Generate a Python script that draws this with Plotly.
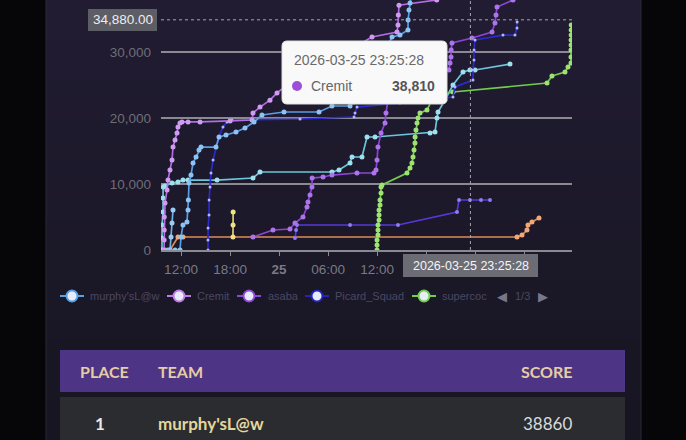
import pandas as pd
import plotly.graph_objects as go

W, H = 686, 440          # reference pixel grid used for layout fractions
FIG_H = 448              # rendered page height (viewport is scaled to 440)
START = pd.Timestamp("2026-03-24 00:00:00")

# ---------------- data (hours since 2026-03-24 00:00, score) ----------------
murphy_h = [10.41, 11.27, 11.88, 12.0, 12.24, 12.73, 12.86, 12.9, 12.98, 13.22, 13.47, 13.84, 14.2, 14.45,
            16.28, 16.65, 17.51, 18.73, 19.83, 20.94, 21.91, 24.61, 28.89, 30.48, 32.69, 33.18, 34.52,
            36.36, 37.83, 38.8, 39.78, 39.8, 39.9, 40.03, 40.27]
murphy_v = [0, 0, 0, 1970, 3790, 4240, 6060, 7580, 10150, 11360, 13180, 14090, 15150, 15600,
            15600, 17120, 17420, 17880, 18480, 19390, 20450, 20910, 20910, 21820, 21820, 22420, 24240,
            28790, 32270, 32570, 33330, 34850, 36360, 37420, 38860]

cremit_h = [9.92, 9.93, 9.94, 9.95, 10.04, 10.29, 10.41, 10.65, 10.9, 11.02, 11.27, 11.51, 11.63, 11.88,
            12.12, 12.86, 14.33, 18.0, 20.69, 20.81, 21.67, 22.89, 23.75, 26.57, 31.46, 35.38, 38.44,
            38.56, 38.6, 38.68, 43.3, 44.0]
cremit_v = [0, 1500, 3030, 5000, 7120, 9090, 10600, 12120, 13640, 15600, 16660, 17730, 18630, 19240,
            19400, 19400, 19400, 19550, 19700, 20750, 21660, 22700, 23800, 26500, 29500, 32270, 33030,
            34090, 35600, 37100, 37880, 38810]

asaba_h = [20.81, 23.26, 25.34, 25.95, 26.93, 27.42, 27.54, 27.79, 28.03, 28.05, 29.38, 30.48, 33.54,
           35.62, 35.87, 35.99, 36.11, 36.48, 36.97, 37.09, 37.34, 38.8, 41.25, 43.7, 44.8, 44.93, 45.05,
           45.07, 45.17, 47.62, 50.07, 50.43, 50.56, 50.68, 52.64, 53.5]
asaba_v = [1970, 3030, 3180, 4090, 5000, 6510, 7270, 8330, 9540, 10900, 11060, 11360, 11670,
           11670, 12120, 13640, 15600, 17730, 19240, 20760, 22730, 23480, 25000, 26500, 27270, 28330, 29240,
           30300, 31360, 32120, 33030, 34390, 35600, 36810, 37880, 38640]

picard_h = [15.3, 15.3, 15.31, 15.43, 15.44, 15.55, 15.67, 15.92, 16.28, 16.65, 17.14, 17.63, 18.24,
            26.57, 33.18, 33.3, 33.54, 38.8, 43.7, 45.29, 45.54, 47.74, 47.75, 47.86, 47.87, 47.99,
            51.41, 52.88, 53.13, 53.14]
picard_v = [0, 1500, 3330, 5300, 7580, 9540, 11670, 13640, 15600, 17120, 18630, 19390, 19700,
            19850, 20150, 20760, 21660, 22270, 22880, 23180, 24700, 25750, 27270, 28790, 30300, 31815,
            32570, 32570, 33630, 34540]

supercoc_h = [35.99, 35.99, 35.99, 36.11, 36.11, 36.11, 36.24, 36.24, 36.24, 36.36, 36.36, 36.48, 36.48,
              36.6, 39.66, 40.03, 40.27, 40.4, 40.52, 40.64, 40.65, 40.76, 40.89, 41.01, 41.25, 42.11,
              42.72, 43.7, 45.29, 56.8, 57.41, 59.0, 59.37, 59.74, 59.74, 59.74, 59.75, 59.75, 59.76,
              59.76, 59.77]
supercoc_v = [0, 760, 1515, 2270, 3030, 3790, 4545, 5300, 6060, 6820, 7575, 8640, 9540,
              9850, 11670, 12420, 13180, 14090, 15150, 16210, 17120, 18180, 19240, 20000, 20760, 21210,
              22730, 23480, 23940, 25300, 26360, 26970, 27720, 28330, 29240, 30300, 31060, 31815, 32570,
              33330, 34090]

cyan_h = [9.67, 9.67, 9.68, 9.8, 9.8, 9.81, 10.04, 10.9, 11.63, 12.24, 12.86, 16.41, 20.81, 21.67,
          30.48, 31.34, 32.69, 32.93, 34.15, 34.77, 35.75, 42.48, 43.09, 43.33, 43.46, 44.31, 45.29,
          46.52, 47.37, 47.99, 52.27]
cyan_v = [0, 1820, 3790, 5760, 7880, 9540, 9700, 10150, 10300, 10600, 10600, 10600, 10910, 11820,
          11820, 12120, 13180, 14090, 14090, 17120, 17120, 17730, 17880, 20000, 20910, 22730, 25000,
          26970, 27270, 27270, 28180]

lightblue2_h = [10.65, 10.78, 10.9, 11.02]
lightblue2_v = [0, 1970, 4090, 6060]

orange_h = [9.56, 10.04, 10.65, 11.63, 12.24, 53.13, 53.74, 54.35, 54.47, 54.96, 55.82]
orange_v = [0, 0, 0, 1970, 1970, 1970, 2270, 3030, 3790, 4240, 4850]

yellow_h = [18.36, 18.37, 18.38]
yellow_v = [1970, 3790, 5760]

indigo_h = [25.95, 26.08, 26.2, 32.69, 38.56, 45.78, 46.03, 47.37, 48.72, 49.82]
indigo_v = [1820, 3030, 3790, 3790, 3790, 5760, 7575, 7575, 7575, 7575]

legend_names = ["murphy'sL@w", "Cremit", "asaba", "Picard_Squad", "supercoc"]
x_tick_hours = [12, 18, 24, 30, 36, 42, 48, 54]
x_tick_text = ["12:00", "18:00", "<b>25</b>", "06:00", "12:00", "", "", ""]
y_tick_vals = [0, 10000, 20000, 30000]
y_tick_text = ["0", "10,000", "20,000", "30,000"]
pointer_time = "2026-03-25 23:25:28"
pointer_value = 34880
tooltip_team, tooltip_score = "Cremit", 38810
table_headers = ["PLACE", "TEAM", "SCORE"]
table_row = ["1", "murphy'sL@w", "38860"]

X_MIN_H, X_MAX_H = 9.55, 59.86
Y_MAX = 37880


def t(hours):
    return START + pd.to_timedelta(pd.Series(hours, dtype=float), unit="h")


def px(x):
    return x / W


def py(y):
    return 1 - y / H


fig = go.Figure()

series = [
    ("orange", orange_h, orange_v, "#dd8a55", "#f0a877", 5),
    ("yellow", yellow_h, yellow_v, "#ddd066", "#efe28a", 5),
    ("indigo", indigo_h, indigo_v, "#5538d6", "#8f7cf0", 4),
    ("lightblue2", lightblue2_h, lightblue2_v, "#6fb0ea", "#9cccf5", 5),
    ("cyan", cyan_h, cyan_v, "#6cc6da", "#9fe0ee", 5),
    ("supercoc", supercoc_h, supercoc_v, "#74cc4c", "#9ee274", 5),
    ("Picard_Squad", picard_h, picard_v, "#2b2bd0", "#b4b4ff", 3),
    ("asaba", asaba_h, asaba_v, "#8c44d6", "#ac74ea", 5),
    ("Cremit", cremit_h, cremit_v, "#b26ce4", "#cf9cf2", 5),
    ("murphy'sL@w", murphy_h, murphy_v, "#5a9ee6", "#8cc4f4", 5),
]
for name, hs, vs, lc, mc, ms in series:
    fig.add_trace(go.Scatter(
        x=t(hs), y=vs, name=name, mode="lines+markers",
        line=dict(color=lc, width=1.7),
        marker=dict(color=mc, size=ms, line=dict(width=0)),
        showlegend=False, hoverinfo="skip",
    ))

shapes = []
# ---- page background: black strips + dark purple panel (gradient bands)
shapes.append(dict(type="rect", xref="paper", yref="paper", x0=0, x1=1, y0=0, y1=1,
                   fillcolor="#060608", line_width=0, layer="below"))
top = (33, 28, 50)
bot = (23, 21, 33)
nb = 22
for i in range(nb):
    f = i / (nb - 1)
    c = tuple(round(top[k] + (bot[k] - top[k]) * f) for k in range(3))
    shapes.append(dict(type="rect", xref="paper", yref="paper",
                       x0=px(46), x1=px(641), y0=py(i * H / nb + H / nb + 0.5), y1=py(i * H / nb),
                       fillcolor="rgb(%d,%d,%d)" % c, line_width=0, layer="below"))
for ex in (46, 641):
    shapes.append(dict(type="line", xref="paper", yref="paper", x0=px(ex), x1=px(ex), y0=0, y1=1,
                       line=dict(color="#2a2838", width=1), layer="below"))

# ---- axis pointer lines
shapes.append(dict(type="line", xref="x", yref="y",
                   x0=START + pd.Timedelta(hours=X_MIN_H), x1=START + pd.Timedelta(hours=X_MAX_H),
                   y0=pointer_value, y1=pointer_value,
                   line=dict(color="#a4a4ac", width=1, dash="3px,3px")))
shapes.append(dict(type="line", xref="x", yref="paper",
                   x0=pd.Timestamp(pointer_time), x1=pd.Timestamp(pointer_time),
                   y0=py(250), y1=1, line=dict(color="#a4a4ac", width=1, dash="3px,3px")))

# ---- pointer labels boxes
shapes.append(dict(type="rect", xref="paper", yref="paper", x0=px(88), x1=px(157), y0=py(31), y1=py(9),
                   fillcolor="#5d5d66", line_width=0))
shapes.append(dict(type="rect", xref="paper", yref="paper", x0=px(403), x1=px(538), y0=py(277), y1=py(254),
                   fillcolor="#6c6c74", line_width=0))


# ---- tooltip (rounded)
def rrect(x0, y0, x1, y1, r):
    X0, X1 = px(x0), px(x1)
    Y0, Y1 = py(y0), py(y1)
    rx, ry = r / W, r / H
    return (f"M {X0+rx},{Y0} L {X1-rx},{Y0} Q {X1},{Y0} {X1},{Y0-ry} L {X1},{Y1+ry} "
            f"Q {X1},{Y1} {X1-rx},{Y1} L {X0+rx},{Y1} Q {X0},{Y1} {X0},{Y1+ry} L {X0},{Y0-ry} "
            f"Q {X0},{Y0} {X0+rx},{Y0} Z")


shapes.append(dict(type="path", xref="paper", yref="paper", path=rrect(281, 40, 448, 105, 5),
                   fillcolor="rgba(0,0,0,0.25)", line_width=0))
shapes.append(dict(type="path", xref="paper", yref="paper", path=rrect(282, 41, 447, 104, 5),
                   fillcolor="#f9f9f9", line=dict(color="#e2e2e2", width=1)))
shapes.append(dict(type="circle", xref="paper", yref="paper", x0=px(292), x1=px(302), y0=py(91), y1=py(81),
                   fillcolor="#9c50d8", line_width=0))

# ---- legend icons
legend_line_colors = ["#5a9ee6", "#c07ce6", "#8e48d6", "#2424b8", "#74cc4c"]
legend_icon_x = [72, 179, 249, 317, 424]
for cx, col in zip(legend_icon_x, legend_line_colors):
    shapes.append(dict(type="line", xref="paper", yref="paper", x0=px(cx - 12), x1=px(cx + 12),
                       y0=py(296), y1=py(296), line=dict(color=col, width=2)))
    shapes.append(dict(type="circle", xref="paper", yref="paper", x0=px(cx - 5.5), x1=px(cx + 5.5),
                       y0=py(301.5), y1=py(290.5), fillcolor="#e6ecf8", line=dict(color=col, width=2)))

# ---- table
shapes.append(dict(type="rect", xref="paper", yref="paper", x0=px(60), x1=px(625), y0=py(392), y1=py(350),
                   fillcolor="#4d3484", line_width=0, layer="below"))
shapes.append(dict(type="rect", xref="paper", yref="paper", x0=px(60), x1=px(625), y0=py(440), y1=py(397),
                   fillcolor="#2b2c30", line_width=0, layer="below"))

ann = []
CF = "Liberation Sans"


def text(x, y, s, size, color, family=CF, xanchor="center"):
    ann.append(dict(x=px(x), y=py(y), text=s, showarrow=False, xref="paper", yref="paper",
                    xanchor=xanchor, yanchor="middle", font=dict(family=family, size=size, color=color)))


text(122.5, 20, "34,880.00", 13.5, "#ececec")
text(471, 266, pointer_time, 12.5, "#f4f4f4")
text(292, 60, pointer_time, 14, "#6a6a6a", xanchor="left")
text(309, 86, tooltip_team, 14, "#666666", xanchor="left")
text(437, 86, "<b>%s</b>" % f"{tooltip_score:,}", 14, "#555555", xanchor="right")

legend_text_x = [88, 195, 266, 333, 440]
for lx, name in zip(legend_text_x, legend_names):
    text(lx, 296, name, 11, "#4a4862", xanchor="left")
text(502, 296, "◀", 13, "#77768a", family="DejaVu Sans")
text(522, 296, "1/3", 11, "#4a4862")
text(543, 296, "▶", 13, "#77768a", family="DejaVu Sans")

TF = "Lato"
hdr_col = "#e6cca4"
text(104, 371, "<b>%s</b>" % table_headers[0], 16, hdr_col, family=TF)
text(156, 371, "<b>%s</b>" % table_headers[1], 16, hdr_col, family=TF, xanchor="left")
text(547, 371, "<b>%s</b>" % table_headers[2], 16, hdr_col, family=TF)
text(100, 423, "<b>%s</b>" % table_row[0], 17, "#e8e8e8", family=TF)
text(156, 423, "<b>%s</b>" % table_row[1], 17, "#e4d69e", family=TF, xanchor="left")
text(547, 423, table_row[2], 17, "#dadada", family=TF)

fig.update_layout(
    width=W, height=FIG_H, autosize=False,
    margin=dict(l=0, r=0, t=0, b=0, pad=0),
    paper_bgcolor="#060608", plot_bgcolor="rgba(0,0,0,0)",
    shapes=shapes, annotations=ann,
    showlegend=False, hovermode=False,
    xaxis=dict(
        domain=[px(161), px(572)], type="date",
        range=[START + pd.Timedelta(hours=X_MIN_H), START + pd.Timedelta(hours=X_MAX_H)],
        tickvals=list(t(x_tick_hours)), ticktext=x_tick_text,
        showgrid=False, zeroline=False, showline=True, linecolor="#8a8a92", linewidth=1.5,
        ticks="outside", ticklen=4, tickcolor="#8a8a92", tickwidth=1,
        tickfont=dict(family=CF, size=13.5, color="#7a7a84"), ticklabelstandoff=2,
    ),
    yaxis=dict(
        domain=[py(250), 1], range=[0, Y_MAX],
        tickvals=y_tick_vals, ticktext=y_tick_text,
        showgrid=True, gridcolor="#8a8a92", gridwidth=1.5, zeroline=False, showline=False,
        tickfont=dict(family=CF, size=13.5, color="#6e6e78"), ticklabelstandoff=9,
    ),
)

page_fix = (
    "var s=document.createElement('style');"
    "s.textContent='html,body{margin:0;padding:0;overflow:hidden;background:#060608;}';"
    "document.head.appendChild(s);"
)
fig.write_html("out.html", config={"displayModeBar": False, "responsive": False}, post_script=page_fix)
